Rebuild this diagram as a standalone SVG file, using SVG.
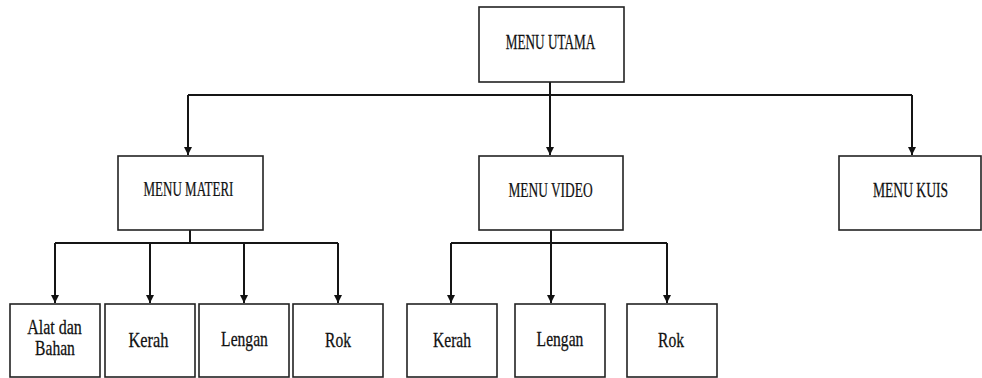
<svg xmlns="http://www.w3.org/2000/svg" width="982" height="378" viewBox="0 0 982 378">
<defs>
<marker id="arr" viewBox="0 0 8 10" refX="8" refY="5" markerWidth="8" markerHeight="10" markerUnits="userSpaceOnUse" orient="auto">
<path d="M0,1 L8,5 L0,9 Z" fill="#111"/>
</marker>
<style>
.box{fill:#fff;stroke:#222;stroke-width:1.6}
.con{fill:none;stroke:#151515;stroke-width:2}
.t{font-family:"Liberation Serif","Times New Roman",serif;font-size:20px;text-anchor:middle;fill:#111;stroke:#111;stroke-width:0.25}
</style>
</defs>
<rect width="982" height="378" fill="#fff"/>
<g id="connectors">
<path class="con" d="M550,82 V95"/>
<path class="con" d="M188,95 H912"/>
<path class="con" d="M188,95 V155" marker-end="url(#arr)"/>
<path class="con" d="M550,95 V155" marker-end="url(#arr)"/>
<path class="con" d="M912,95 V155" marker-end="url(#arr)"/>
<path class="con" d="M190,230 V243"/>
<path class="con" d="M55,243 H338"/>
<path class="con" d="M55,243 V303" marker-end="url(#arr)"/>
<path class="con" d="M150,243 V303" marker-end="url(#arr)"/>
<path class="con" d="M244,243 V303" marker-end="url(#arr)"/>
<path class="con" d="M338,243 V303" marker-end="url(#arr)"/>
<path class="con" d="M551,230 V243"/>
<path class="con" d="M451,243 H667"/>
<path class="con" d="M451,243 V303" marker-end="url(#arr)"/>
<path class="con" d="M551,243 V303" marker-end="url(#arr)"/>
<path class="con" d="M667,243 V303" marker-end="url(#arr)"/>
</g>
<g id="menu-utama"><rect class="box" x="479" y="7" width="145" height="75"/><text class="t" transform="translate(550.5,49) scale(0.66,1)">MENU UTAMA</text></g>
<g id="menu-materi"><rect class="box" x="118" y="156" width="145" height="74"/><text class="t" transform="translate(188.5,196) scale(0.65,1)">MENU MATERI</text></g>
<g id="menu-video"><rect class="box" x="479" y="156" width="144" height="74"/><text class="t" transform="translate(550.5,197) scale(0.67,1)">MENU VIDEO</text></g>
<g id="menu-kuis"><rect class="box" x="839" y="156" width="142" height="74"/><text class="t" transform="translate(910.5,197) scale(0.68,1)">MENU KUIS</text></g>
<g id="materi-alat"><rect class="box" x="10" y="304" width="90" height="73"/><text class="t" transform="translate(54.5,334) scale(0.8,1)">Alat dan</text><text class="t" transform="translate(55,355) scale(0.78,1)">Bahan</text></g>
<g id="materi-kerah"><rect class="box" x="105" y="304" width="90" height="73"/><text class="t" transform="translate(148.5,347) scale(0.82,1)">Kerah</text></g>
<g id="materi-lengan"><rect class="box" x="199" y="304" width="90" height="73"/><text class="t" transform="translate(244.5,346) scale(0.78,1)">Lengan</text></g>
<g id="materi-rok"><rect class="box" x="293" y="304" width="90" height="73"/><text class="t" transform="translate(338,347) scale(0.78,1)">Rok</text></g>
<g id="video-kerah"><rect class="box" x="407" y="304" width="90" height="73"/><text class="t" transform="translate(452,347) scale(0.78,1)">Kerah</text></g>
<g id="video-lengan"><rect class="box" x="515" y="304" width="90" height="73"/><text class="t" transform="translate(560,346) scale(0.78,1)">Lengan</text></g>
<g id="video-rok"><rect class="box" x="627" y="304" width="90" height="73"/><text class="t" transform="translate(671,347) scale(0.78,1)">Rok</text></g>
</svg>
